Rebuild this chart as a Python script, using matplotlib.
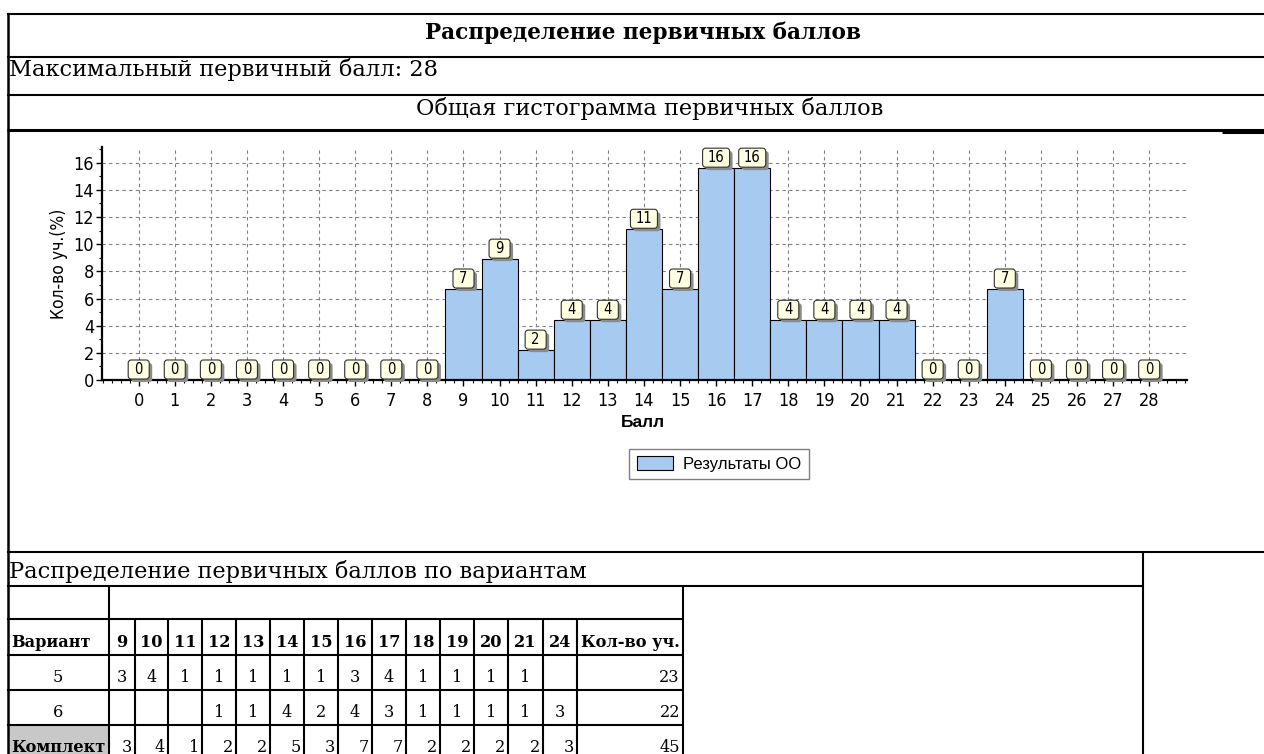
import matplotlib
matplotlib.use('Agg')
import matplotlib.pyplot as plt
import matplotlib.patches as patches
import matplotlib.transforms as mtransforms
from matplotlib.ticker import MultipleLocator

plt.rcParams['font.family'] = ['DejaVu Sans']
plt.rcParams['font.stretch'] = 'condensed'

# данные гистограммы (проценты участников по баллам)
scores = [0, 1, 2, 3, 4, 5, 6, 7, 8, 9, 10, 11, 12, 13, 14,
          15, 16, 17, 18, 19, 20, 21, 22, 23, 24, 25, 26, 27, 28]
percent = [0, 0, 0, 0, 0, 0, 0, 0, 0, 6.7, 8.9, 2.2, 4.4, 4.4, 11.1,
           6.7, 15.6, 15.6, 4.4, 4.4, 4.4, 4.4, 0, 0, 6.7, 0, 0, 0, 0]

# таблица по вариантам
table_header = ['Вариант', '9', '10', '11', '12', '13', '14', '15', '16',
                '17', '18', '19', '20', '21', '24', 'Кол-во уч.']
row_var5 = ['5', '3', '4', '1', '1', '1', '1', '1', '3', '4', '1', '1', '1', '1', '', '23']
row_var6 = ['6', '', '', '', '1', '1', '4', '2', '4', '3', '1', '1', '1', '1', '3', '22']
row_total = ['Комплект', '3', '4', '1', '2', '2', '5', '3', '7', '7', '2', '2', '2', '2', '3', '45']

W, H = 1264, 754
fig = plt.figure(figsize=(W / 100, H / 100), dpi=100)

# рамка страницы в пикселях
fr = fig.add_axes([0, 0, 1, 1])
fr.set_xlim(0, W)
fr.set_ylim(H, 0)
fr.axis('off')

def hline(y, x0, x1, lw=1.5):
    fr.plot([x0, x1], [y, y], color='black', lw=lw, solid_capstyle='butt')

def vline(x, y0, y1, lw=1.5):
    fr.plot([x, x], [y0, y1], color='black', lw=lw, solid_capstyle='butt')

serif = 'DejaVu Serif'
big = 16.2
hline(14, 7, W)
hline(57, 7, W)
hline(94.5, 7, W)
hline(130, 7, W, lw=2.2)
hline(131.5, 1222, W, lw=2.2)
vline(7.5, 13, H, lw=1.8)

fr.text(643, 39, 'Распределение первичных баллов', family=serif, fontsize=15.6,
        fontweight='bold', ha='center', va='baseline', fontstretch='normal')
fr.text(9, 76, 'Максимальный первичный балл: 28', family=serif, fontsize=big,
        ha='left', va='baseline', fontstretch='normal')
fr.text(650, 115, 'Общая гистограмма первичных баллов', family=serif, fontsize=big,
        ha='center', va='baseline', fontstretch='normal')

# нижний блок с таблицей
hline(552, 7, W)
hline(586, 7, 1143)
vline(1143, 552, H)
fr.text(9, 578, 'Распределение первичных баллов по вариантам', family=serif,
        fontsize=big, ha='left', va='baseline', fontstretch='normal')

col_edges = [7.5, 109, 135, 168, 202, 236, 270, 304, 338, 372, 406, 440, 474,
             508, 543, 577, 683]
row_edges = [619, 655, 690, 725, 760]

fr.add_patch(patches.Rectangle((7.5, 725), 109 - 7.5, 40, facecolor='#C8C8C8',
                               edgecolor='none', zorder=0))
for y in row_edges[:-1]:
    hline(y, 7, 683)
vline(109, 586, H)
vline(683, 586, H)
for x in col_edges[2:-1]:
    vline(x, 619, H)

rows = [table_header, row_var5, row_var6, row_total]
for r, row in enumerate(rows):
    base = row_edges[r + 1] - 8
    for c, val in enumerate(row):
        x0, x1 = col_edges[c], col_edges[c + 1]
        bold = (r == 0) or (r == 3 and c == 0)
        if c == 0:
            if r in (0, 3):
                x, ha = x0 + 4, 'left'
            else:
                x, ha = (x0 + x1) / 2, 'center'
        elif c == len(row) - 1:
            if r == 0:
                x, ha = x0 + 4, 'left'
            else:
                x, ha = x1 - 3, 'right'
        elif r == 3:
            x, ha = x1 - 3, 'right'
        else:
            x, ha = (x0 + x1) / 2, 'center'
        fr.text(x, base, val, family=serif, fontsize=11.6, fontstretch='normal',
                fontweight='bold' if bold else 'normal', ha=ha, va='baseline')

# гистограмма
ax = fig.add_axes([101.7 / W, 1 - 380 / H, (1186.7 - 101.7) / W, (380 - 146.7) / H])
ax.bar(scores, percent, width=1.0, color='#A6CAF0', edgecolor='black',
       linewidth=0.8, zorder=2, label='Результаты ОО')

for x, v in zip(scores, percent):
    lbl = f'{round(v)}'
    w = 21 if len(lbl) == 1 else 27
    h = 19
    trans = mtransforms.ScaledTranslation(x, v, ax.transData)
    shadow = patches.FancyBboxPatch((-w / 2 + 3, -2), w, h,
                                    boxstyle='round,pad=0,rounding_size=3',
                                    fc='#8C8C8C', ec='none', transform=trans,
                                    clip_on=False, zorder=4)
    box = patches.FancyBboxPatch((-w / 2, 1), w, h,
                                 boxstyle='round,pad=0,rounding_size=3',
                                 fc='#FFFFE1', ec='#303030', lw=0.8,
                                 transform=trans, clip_on=False, zorder=5)
    ax.add_artist(shadow)
    ax.add_artist(box)
    ax.text(x, v, lbl, fontsize=10.5, ha='center', va='center', zorder=6,
            transform=mtransforms.offset_copy(ax.transData, fig=fig, x=0,
                                              y=1 + h / 2, units='dots'),
            clip_on=False)

ax.set_xlim(-1.025, 29.04)
ax.set_ylim(0, 17.18)
ax.set_xticks(scores)
ax.set_yticks(range(0, 17, 2))
ax.xaxis.set_minor_locator(MultipleLocator(0.25))
ax.yaxis.set_minor_locator(MultipleLocator(1))
ax.set_axisbelow(True)
ax.grid(True, which='major', color='#808080', linestyle=(0, (3, 3)), linewidth=0.8)
for s in ['top', 'right']:
    ax.spines[s].set_visible(False)
for s in ['left', 'bottom']:
    ax.spines[s].set_linewidth(1.6)
ax.tick_params(axis='both', which='major', length=4, width=1, labelsize=13)
ax.tick_params(axis='x', which='major', pad=5)
ax.tick_params(axis='y', which='major', pad=1.5)
ax.tick_params(axis='both', which='minor', length=2, width=0.8)

ax.set_ylabel('Кол-во уч.(%)', fontsize=12.5)
ax.yaxis.set_label_coords(-0.031, 0.5)
ax.set_xlabel('Балл', fontsize=12.5, fontweight='bold', family='Liberation Sans',
              fontstretch='normal')
ax.xaxis.set_label_coords(0.499, -0.150)

leg = ax.legend(loc='center', bbox_to_anchor=(719 / W, 1 - 464 / H),
                bbox_transform=fig.transFigure, fancybox=False, framealpha=1,
                edgecolor='#808080', handlelength=2.2, handleheight=0.85,
                borderpad=0.45, handletextpad=0.6,
                prop={'family': 'Liberation Sans', 'size': 12})
leg.get_frame().set_linewidth(1.0)

fig.savefig('out.png', dpi=100)
